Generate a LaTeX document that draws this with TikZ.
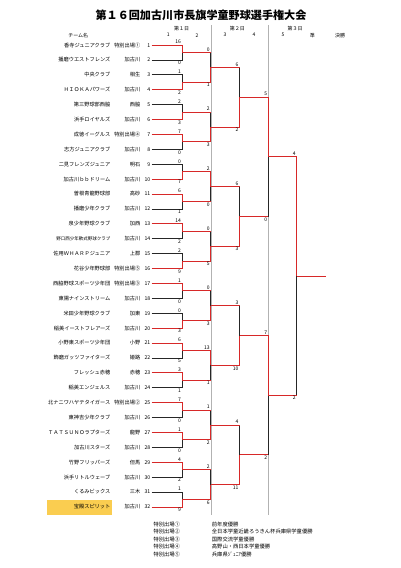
\documentclass[tikz,border=0pt]{standalone}
\usepackage{fontspec}
\setmainfont{Noto Sans CJK JP}
\usetikzlibrary{positioning}
\definecolor{wred}{RGB}{215,40,40}
\definecolor{hilite}{RGB}{250,205,80}
\newcommand{\teamrow}[3]{#1\makebox[30pt][r]{#2}\makebox[10pt][r]{#3}}

\begin{document}
\begin{tikzpicture}[x=1pt, y=-1pt,
        team/.style={anchor=east, inner xsep=1pt, inner ysep=0pt, font=\fontsize{5.2}{6}\selectfont},
        head/.style={font=\fontsize{5}{6}\selectfont, inner sep=0pt},
        note/.style={anchor=west, font=\fontsize{5.3}{6}\selectfont, inner sep=0pt},
        win/.style={draw=wred, line width=0.8pt},
        lose/.style={draw=black!85, line width=0.8pt},
        up/.style={anchor=south east, inner sep=0.7pt, font=\fontsize{5}{6}\selectfont},
        dn/.style={anchor=north east, inner sep=0.7pt, font=\fontsize{5}{6}\selectfont},
        divider/.style={draw=gray!60, line width=0.4pt}
    ]
        \useasboundingbox (0,0) rectangle (401,568);

        % title and headings
        \node[font=\fontsize{11.1}{13}\selectfont\bfseries] (title) at (201,15.5) {第１６回加古川市長旗学童野球選手権大会};
        \node[head] (day1) at (181.7,28.3) {第１日};
        \node[head] (day2) at (237.3,28.3) {第２日};
        \node[head] (day3) at (295,28.3) {第３日};
        \node[head] (cname) at (78.3,35.2) {チーム名};
        \node[head] (col1) at (168.3,35.2) {1};
        \node[head] (col2) at (197,35.2) {2};
        \node[head] (col3) at (225,35.2) {3};
        \node[head] (col4) at (254,35.2) {4};
        \node[head] (col5) at (283,35.2) {5};
        \node[head] (semi) at (312.3,35.2) {準};
        \node[head] (final) at (340,35.2) {決勝};

        \draw[divider] (210.7,25) -- (210.7,515);
        \draw[divider] (268.3,25) -- (268.3,515);

        \fill[hilite] (46.7,499.5) rectangle (111.7,514.5);

        % teams
        \node[team] (t1) at (151.5,45.0) {\teamrow{香寺ジュニアクラブ}{特別出場①}{1}};
        \node[team] (t2) at (151.5,59.9) {\teamrow{播磨ウエストフレンズ}{加古川}{2}};
        \node[team] (t3) at (151.5,74.8) {\teamrow{中央クラブ}{相生}{3}};
        \node[team] (t4) at (151.5,89.7) {\teamrow{ＨＩＯＫＡパワーズ}{加古川}{4}};
        \node[team] (t5) at (151.5,104.6) {\teamrow{第三野球部西脇}{西脇}{5}};
        \node[team] (t6) at (151.5,119.5) {\teamrow{浜手ロイヤルズ}{加古川}{6}};
        \node[team] (t7) at (151.5,134.4) {\teamrow{成徳イーグルス}{特別出場④}{7}};
        \node[team] (t8) at (151.5,149.3) {\teamrow{志方ジュニアクラブ}{加古川}{8}};
        \node[team] (t9) at (151.5,164.2) {\teamrow{二見フレンズジュニア}{明石}{9}};
        \node[team] (t10) at (151.5,179.1) {\teamrow{加古川ｂｂドリーム}{加古川}{10}};
        \node[team] (t11) at (151.5,194.0) {\teamrow{曽根青龍野球部}{高砂}{11}};
        \node[team] (t12) at (151.5,208.9) {\teamrow{播磨少年クラブ}{加古川}{12}};
        \node[team] (t13) at (151.5,223.8) {\teamrow{泉少年野球クラブ}{加西}{13}};
        \node[team] (t14) at (151.5,238.7) {\teamrow{{\fontsize{4.5}{6}\selectfont 野口西少年軟式野球クラブ}}{加古川}{14}};
        \node[team] (t15) at (151.5,253.6) {\teamrow{佐用ＷＨＡＲＰジュニア}{上郡}{15}};
        \node[team] (t16) at (151.5,268.5) {\teamrow{花谷少年野球部}{特別出場⑤}{16}};
        \node[team] (t17) at (151.5,283.4) {\teamrow{西脇野球スポーツ少年団}{特別出場③}{17}};
        \node[team] (t18) at (151.5,298.3) {\teamrow{東陽ナインストリーム}{加古川}{18}};
        \node[team] (t19) at (151.5,313.2) {\teamrow{米田少年野球クラブ}{加東}{19}};
        \node[team] (t20) at (151.5,328.1) {\teamrow{稲美イーストフレアーズ}{加古川}{20}};
        \node[team] (t21) at (151.5,343.0) {\teamrow{小野東スポーツ少年団}{小野}{21}};
        \node[team] (t22) at (151.5,357.9) {\teamrow{飾磨ガッツファイターズ}{姫路}{22}};
        \node[team] (t23) at (151.5,372.8) {\teamrow{フレッシュ赤穂}{赤穂}{23}};
        \node[team] (t24) at (151.5,387.7) {\teamrow{稲美エンジェルス}{加古川}{24}};
        \node[team] (t25) at (151.5,402.6) {\teamrow{北ナニワハヤテタイガース}{特別出場②}{25}};
        \node[team] (t26) at (151.5,417.5) {\teamrow{東神吉少年クラブ}{加古川}{26}};
        \node[team] (t27) at (151.5,432.4) {\teamrow{ＴＡＴＳＵＮＯラプターズ}{龍野}{27}};
        \node[team] (t28) at (151.5,447.3) {\teamrow{加古川スターズ}{加古川}{28}};
        \node[team] (t29) at (151.5,462.2) {\teamrow{竹野フリッパーズ}{但馬}{29}};
        \node[team] (t30) at (151.5,477.1) {\teamrow{浜手リトルウェーブ}{加古川}{30}};
        \node[team] (t31) at (151.5,492.0) {\teamrow{くるみビックス}{三木}{31}};
        \node[team] (t32) at (151.5,506.9) {\teamrow{宝殿スピリット}{加古川}{32}};

        % match points
        \coordinate (m1) at (182,52.45);
        \coordinate (m2) at (182,82.25);
        \coordinate (m3) at (182,112.05);
        \coordinate (m4) at (182,141.85);
        \coordinate (m5) at (182,171.65);
        \coordinate (m6) at (182,201.45);
        \coordinate (m7) at (182,231.25);
        \coordinate (m8) at (182,261.05);
        \coordinate (m9) at (182,290.85);
        \coordinate (m10) at (182,320.65);
        \coordinate (m11) at (182,350.45);
        \coordinate (m12) at (182,380.25);
        \coordinate (m13) at (182,410.05);
        \coordinate (m14) at (182,439.85);
        \coordinate (m15) at (182,469.65);
        \coordinate (m16) at (182,499.45);
        \coordinate (q1) at (210.7,67.35);
        \coordinate (q2) at (210.7,126.95);
        \coordinate (q3) at (210.7,186.55);
        \coordinate (q4) at (210.7,246.15);
        \coordinate (q5) at (210.7,305.75);
        \coordinate (q6) at (210.7,365.35);
        \coordinate (q7) at (210.7,424.95);
        \coordinate (q8) at (210.7,484.55);
        \coordinate (s1) at (239.5,97.15);
        \coordinate (s2) at (239.5,216.35);
        \coordinate (s3) at (239.5,335.55);
        \coordinate (s4) at (239.5,454.75);
        \coordinate (h1) at (268.3,156.75);
        \coordinate (h2) at (268.3,395.15);
        \coordinate (fin) at (296.7,275.95);
        \coordinate (champ) at (325.7,275.95);

        % round 1
        \draw[lose] (t2.east) -| node[dn] {0} (m1);
        \draw[win] (t1.east) -| node[up] {16} (m1);
        \draw[lose] (t3.east) -| node[up] {1} (m2);
        \draw[win] (t4.east) -| node[dn] {2} (m2);
        \draw[lose] (t5.east) -| node[up] {2} (m3);
        \draw[win] (t6.east) -| node[dn] {3} (m3);
        \draw[lose] (t8.east) -| node[dn] {0} (m4);
        \draw[win] (t7.east) -| node[up] {7} (m4);
        \draw[lose] (t9.east) -| node[up] {0} (m5);
        \draw[win] (t10.east) -| node[dn] {7} (m5);
        \draw[lose] (t12.east) -| node[dn] {1} (m6);
        \draw[win] (t11.east) -| node[up] {6} (m6);
        \draw[lose] (t14.east) -| node[dn] {2} (m7);
        \draw[win] (t13.east) -| node[up] {14} (m7);
        \draw[lose] (t15.east) -| node[up] {2} (m8);
        \draw[win] (t16.east) -| node[dn] {9} (m8);
        \draw[lose] (t18.east) -| node[dn] {0} (m9);
        \draw[win] (t17.east) -| node[up] {1} (m9);
        \draw[lose] (t19.east) -| node[up] {0} (m10);
        \draw[win] (t20.east) -| node[dn] {3} (m10);
        \draw[lose] (t22.east) -| node[dn] {5} (m11);
        \draw[win] (t21.east) -| node[up] {6} (m11);
        \draw[lose] (t24.east) -| node[dn] {1} (m12);
        \draw[win] (t23.east) -| node[up] {3} (m12);
        \draw[lose] (t26.east) -| node[dn] {0} (m13);
        \draw[win] (t25.east) -| node[up] {7} (m13);
        \draw[lose] (t28.east) -| node[dn] {0} (m14);
        \draw[win] (t27.east) -| node[up] {1} (m14);
        \draw[lose] (t30.east) -| node[dn] {2} (m15);
        \draw[win] (t29.east) -| node[up] {4} (m15);
        \draw[lose] (t31.east) -| node[up] {1} (m16);
        \draw[win] (t32.east) -| node[dn] {9} (m16);

        % round 2
        \draw[lose] (q1) |- (m1);
        \draw[win] (m1) -- node[up, at end] {0} (m1 -| q1);
        \draw[win] (m2) -| node[dn] {1} (q1);
        \draw[lose] (q2) |- (m3);
        \draw[win] (m3) -- node[up, at end] {2} (m3 -| q2);
        \draw[win] (m4) -| node[dn] {3} (q2);
        \draw[lose] (q3) |- (m6);
        \draw[win] (m6) -- node[dn, at end] {0} (m6 -| q3);
        \draw[win] (m5) -| node[up] {2} (q3);
        \draw[lose] (q4) |- (m7);
        \draw[win] (m7) -- node[up, at end] {0} (m7 -| q4);
        \draw[win] (m8) -| node[dn] {5} (q4);
        \draw[lose] (q5) |- (m9);
        \draw[win] (m9) -- node[up, at end] {0} (m9 -| q5);
        \draw[win] (m10) -| node[dn] {3} (q5);
        \draw[lose] (q6) |- (m12);
        \draw[win] (m12) -- node[dn, at end] {1} (m12 -| q6);
        \draw[win] (m11) -| node[up] {13} (q6);
        \draw[lose] (q7) |- (m13);
        \draw[win] (m13) -- node[up, at end] {1} (m13 -| q7);
        \draw[win] (m14) -| node[dn] {2} (q7);
        \draw[lose] (q8) |- (m15);
        \draw[win] (m15) -- node[up, at end] {2} (m15 -| q8);
        \draw[win] (m16) -| node[dn] {6} (q8);

        % round 3
        \draw[lose] (s1) |- (q1);
        \draw[win] (q1) -- node[up, at end] {6} (q1 -| s1);
        \draw[win] (q2) -| node[dn] {2} (s1);
        \draw[lose] (s2) |- (q3);
        \draw[win] (q3) -- node[up, at end] {6} (q3 -| s2);
        \draw[win] (q4) -| node[dn] {3} (s2);
        \draw[lose] (s3) |- (q5);
        \draw[win] (q5) -- node[up, at end] {3} (q5 -| s3);
        \draw[win] (q6) -| node[dn] {10} (s3);
        \draw[lose] (s4) |- (q7);
        \draw[win] (q7) -- node[up, at end] {4} (q7 -| s4);
        \draw[win] (q8) -| node[dn] {11} (s4);

        % round 4 and final
        \draw[lose] (h1) |- (s2);
        \draw[win] (s2) -- node[dn, at end] {0} (s2 -| h1);
        \draw[win] (s1) -| node[up] {5} (h1);
        \draw[lose] (h2) |- (s4);
        \draw[win] (s4) -- node[dn, at end] {2} (s4 -| h2);
        \draw[win] (s3) -| node[up] {7} (h2);
        \draw[lose] (fin) |- (h2);
        \draw[win] (h2) -- node[dn, at end] {2} (h2 -| fin);
        \draw[win] (h1) -| node[up] {4} (fin);
        \draw[win] (fin) -- (champ);

        % notes
        \node[note] (k1) at (153.3,524) {特別出場①};
        \node[note] (k2) at (153.3,531.6) {特別出場②};
        \node[note] (k3) at (153.3,539.2) {特別出場③};
        \node[note] (k4) at (153.3,546.8) {特別出場④};
        \node[note] (k5) at (153.3,554.4) {特別出場⑤};
        \node[note] (v1) at (211.7,524) {前年度優勝};
        \node[note] (v2) at (211.7,531.6) {全日本学童近畿ろうきん杯兵庫県学童優勝};
        \node[note] (v3) at (211.7,539.2) {国際交流学童優勝};
        \node[note] (v4) at (211.7,546.8) {高野山・西日本学童優勝};
        \node[note] (v5) at (211.7,554.4) {兵庫県ｼﾞｭﾆｱ優勝};
    \end{tikzpicture}
\end{document}
